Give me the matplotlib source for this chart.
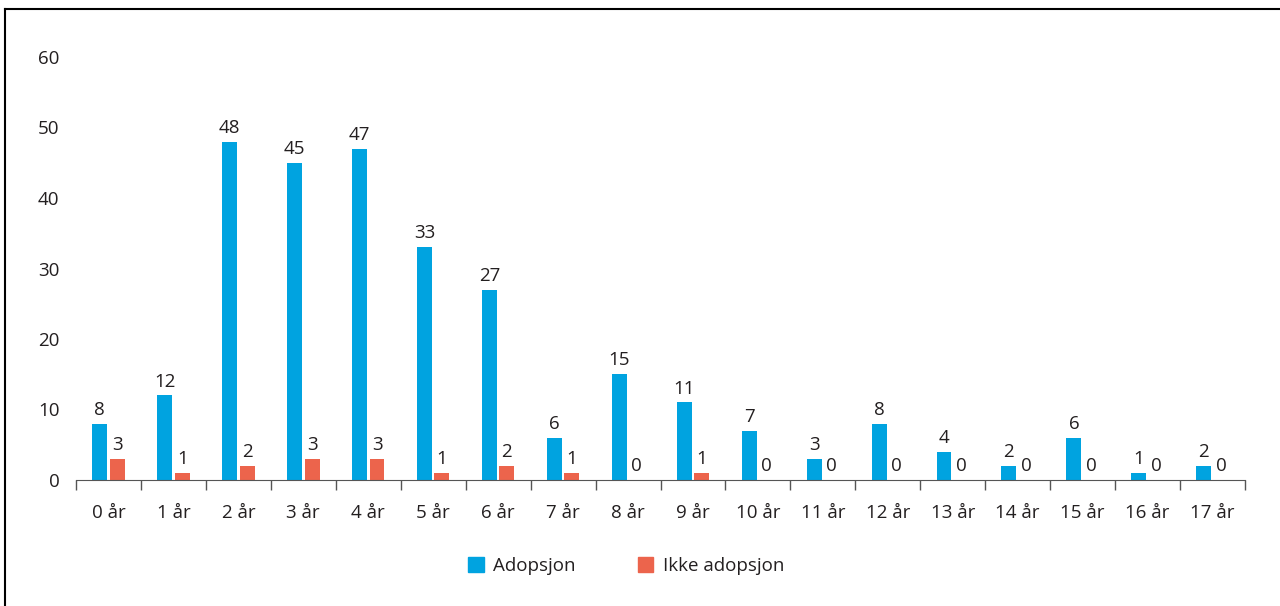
import numpy as np
import matplotlib.pyplot as plt
from matplotlib.lines import Line2D
from matplotlib.patches import Patch

plt.rcParams['font.family'] = ['Open Sans', 'DejaVu Sans']

categories = [f"{i} år" for i in range(18)]
adopsjon = [8, 12, 48, 45, 47, 33, 27, 6, 15, 11, 7, 3, 8, 4, 2, 6, 1, 2]
ikke_adopsjon = [3, 1, 2, 3, 3, 1, 2, 1, 0, 1, 0, 0, 0, 0, 0, 0, 0, 0]
series_names = ["Adopsjon", "Ikke adopsjon"]

blue = "#00a3e0"
red = "#ec644c"
text_col = "#231f20"

W, H = 1280, 606
fig = plt.figure(figsize=(W / 100, H / 100), dpi=100)
ax = fig.add_axes([76 / W, 1 - 480 / H, (1245 - 76) / W, (480 - 57) / H])

x = np.arange(len(categories))
bw = 0.23
off = 0.135
b1 = ax.bar(x - off, adopsjon, bw, color=blue)
b2 = ax.bar(x + off, ikke_adopsjon, bw, color=red)

for bars, vals in ((b1, adopsjon), (b2, ikke_adopsjon)):
    for r, v in zip(bars, vals):
        ax.annotate(str(v), (r.get_x() + r.get_width() / 2, v),
                    xytext=(0, 3.5), textcoords="offset points",
                    ha="center", va="bottom", fontsize=13.5, color=text_col)

ax.set_xlim(-0.5, len(categories) - 0.5)
ax.set_ylim(0, 60)
ax.set_yticks(range(0, 61, 10))

# category labels centred, ticks drawn between categories
ax.set_xticks(np.arange(-0.5, len(categories)), minor=False)
ax.set_xticklabels([])
ax.set_xticks(x, minor=True)
ax.set_xticklabels(categories, minor=True)
ax.tick_params(axis="x", which="major", length=7, width=1, color="#555555")
ax.tick_params(axis="x", which="minor", length=0, pad=17, labelsize=13.5, labelcolor=text_col)
ax.tick_params(axis="y", length=0, pad=12, labelsize=13.5, labelcolor=text_col)

for s in ("top", "right", "left"):
    ax.spines[s].set_visible(False)
ax.spines["bottom"].set_color("#555555")

handles = [Patch(color=blue), Patch(color=red)]
fig.legend(handles, series_names, loc="center", bbox_to_anchor=(626 / W, 1 - 566 / H),
           ncol=2, frameon=False, fontsize=13.5, handlelength=0.85, handleheight=0.85,
           handletextpad=0.5, columnspacing=3.3, labelcolor=text_col,
           borderpad=0, borderaxespad=0)

# outer frame along the top and left edge
fig.add_artist(Line2D([5 / W, 1], [1 - 9 / H, 1 - 9 / H], color="black", lw=1.5))
fig.add_artist(Line2D([5 / W, 5 / W], [0, 1 - 9 / H], color="black", lw=1.5))

fig.savefig("out.png", dpi=100)
